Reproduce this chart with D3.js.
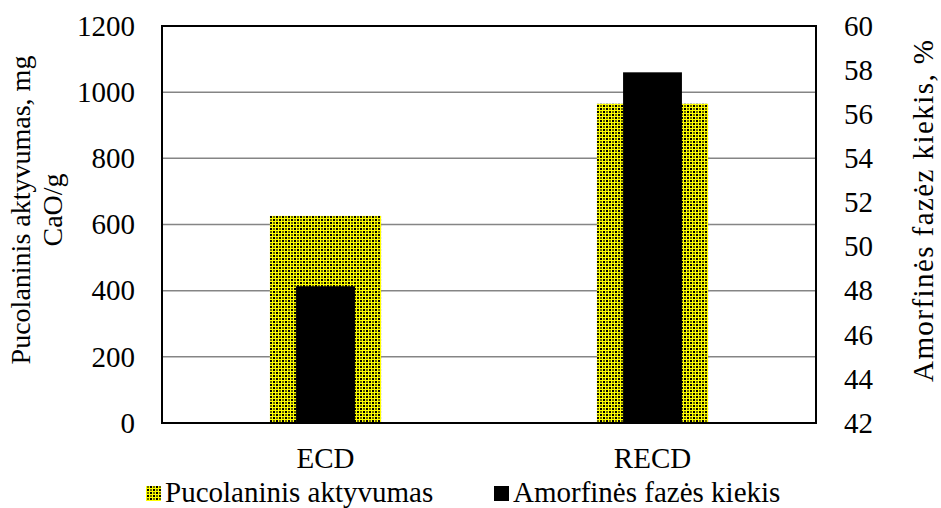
<!DOCTYPE html>
<html>
<head>
<meta charset="utf-8">
<script src="https://cdn.jsdelivr.net/npm/d3@7"></script>
<style>
  html, body { margin: 0; padding: 0; background: #fff; }
  svg { display: block; }
</style>
</head>
<body>
<svg id="chart" width="941" height="508"></svg>
<script>
// Samples and measured values
const categories = ["ECD", "RECD"];
const pozzolanicActivity = [626, 965];      // mg CaO/g (left axis)
const amorphousPhase = [48.2, 57.9];        // % (right axis)
const leftTicks = [0, 200, 400, 600, 800, 1000, 1200];
const rightTicks = [42, 44, 46, 48, 50, 52, 54, 56, 58, 60];
const legendLabels = ["Pucolaninis aktyvumas", "Amorfinės fazės kiekis"];

const m = { left: 162, right: 816, top: 26, bottom: 423 };
const SERIF = "'Liberation Serif', 'Times New Roman', 'DejaVu Serif', serif";

const svg = d3.select("#chart").attr("font-family", SERIF);

// Checkered yellow fill for the pozzolanic activity bars
const defs = svg.append("defs");
const pat = defs.append("pattern")
  .attr("id", "checker")
  .attr("patternUnits", "userSpaceOnUse")
  .attr("width", 6).attr("height", 6);
pat.append("rect").attr("width", 6).attr("height", 6).attr("fill", "#ffff00");
pat.append("rect").attr("x", 0).attr("y", 0).attr("width", 2).attr("height", 2).attr("fill", "#000");
pat.append("rect").attr("x", 3).attr("y", 3).attr("width", 2).attr("height", 2).attr("fill", "#000");
pat.append("rect").attr("x", 3).attr("y", 0).attr("width", 2).attr("height", 2).attr("fill", "#6b6b00");
pat.append("rect").attr("x", 0).attr("y", 3).attr("width", 2).attr("height", 2).attr("fill", "#6b6b00");

const x = d3.scaleBand().domain(categories).range([m.left, m.right]);
const yL = d3.scaleLinear().domain([0, 1200]).range([m.bottom, m.top]);
const yR = d3.scaleLinear().domain([42, 60]).range([m.bottom, m.top]);

// Horizontal gridlines
svg.append("g")
  .selectAll("line")
  .data(leftTicks.filter(t => t > 0 && t < 1200))
  .join("line")
  .attr("x1", m.left).attr("x2", m.right)
  .attr("y1", d => yL(d)).attr("y2", d => yL(d))
  .attr("stroke", "#858585").attr("stroke-width", 1.5);

const wideW = x.bandwidth() * 0.34;
const narrowW = x.bandwidth() * 0.18;

// Pozzolanic activity bars (left axis)
svg.append("g")
  .selectAll("rect")
  .data(categories)
  .join("rect")
  .attr("x", d => x(d) + x.bandwidth() / 2 - wideW / 2)
  .attr("width", wideW)
  .attr("y", (d, i) => yL(pozzolanicActivity[i]))
  .attr("height", (d, i) => yL(0) - yL(pozzolanicActivity[i]))
  .attr("fill", "url(#checker)");

// Amorphous phase bars (right axis)
svg.append("g")
  .selectAll("rect")
  .data(categories)
  .join("rect")
  .attr("x", d => x(d) + x.bandwidth() / 2 - narrowW / 2)
  .attr("width", narrowW)
  .attr("y", (d, i) => yR(amorphousPhase[i]))
  .attr("height", (d, i) => yR(42) - yR(amorphousPhase[i]))
  .attr("fill", "#000");

// Plot frame
svg.append("rect")
  .attr("x", m.left).attr("y", m.top)
  .attr("width", m.right - m.left).attr("height", m.bottom - m.top)
  .attr("fill", "none").attr("stroke", "#000").attr("stroke-width", 2);

function styleAxis(g) {
  g.attr("font-family", SERIF).attr("font-size", 29);
  g.select(".domain").remove();
  g.selectAll("text").attr("fill", "#000");
}

// Left axis labels
const leftAxis = d3.axisLeft(yL).tickValues(leftTicks).tickFormat(d3.format("d")).tickSize(0).tickPadding(27);
svg.append("g").attr("transform", `translate(${m.left},0)`).call(leftAxis).call(styleAxis);

// Right axis labels
const rightAxis = d3.axisRight(yR).tickValues(rightTicks).tickFormat(d3.format("d")).tickSize(0).tickPadding(28);
svg.append("g").attr("transform", `translate(${m.right},0)`).call(rightAxis).call(styleAxis);

// Category labels
const xAxis = d3.axisBottom(x).tickSize(0).tickPadding(24);
svg.append("g").attr("transform", `translate(0,${m.bottom})`).call(xAxis).call(styleAxis);

// Left axis title (two lines)
const lt = svg.append("text")
  .attr("font-family", SERIF)
  .attr("transform", `translate(20,210) rotate(-90)`)
  .attr("text-anchor", "middle")
  .attr("font-size", 28)
  .attr("fill", "#000");
lt.append("tspan").attr("x", 0).attr("dy", "0.35em").text("Pucolaninis aktyvumas, mg");
lt.append("tspan").attr("x", 0).attr("dy", "1.15em").text("CaO/g");

// Right axis title
svg.append("text")
  .attr("font-family", SERIF)
  .attr("transform", `translate(923,211) rotate(-90)`)
  .attr("text-anchor", "middle")
  .attr("dy", "0.35em")
  .attr("font-size", 29)
  .attr("textLength", 342)
  .attr("lengthAdjust", "spacing")
  .attr("fill", "#000")
  .text("Amorfinės fazėz kiekis, %");

// Legend
const legend = svg.append("g").attr("font-family", SERIF);
const legendItems = [
  { label: legendLabels[0], fill: "url(#checker)", x: 146 },
  { label: legendLabels[1], fill: "#000", x: 494 }
];
legendItems.forEach(it => {
  legend.append("rect")
    .attr("x", it.x).attr("y", 486).attr("width", 15).attr("height", 15)
    .attr("fill", it.fill);
  legend.append("text")
    .attr("font-family", SERIF)
    .attr("x", it.x + 19).attr("y", 502)
    .attr("font-size", 29)
    .attr("fill", "#000")
    .text(it.label);
});
</script>
</body>
</html>
